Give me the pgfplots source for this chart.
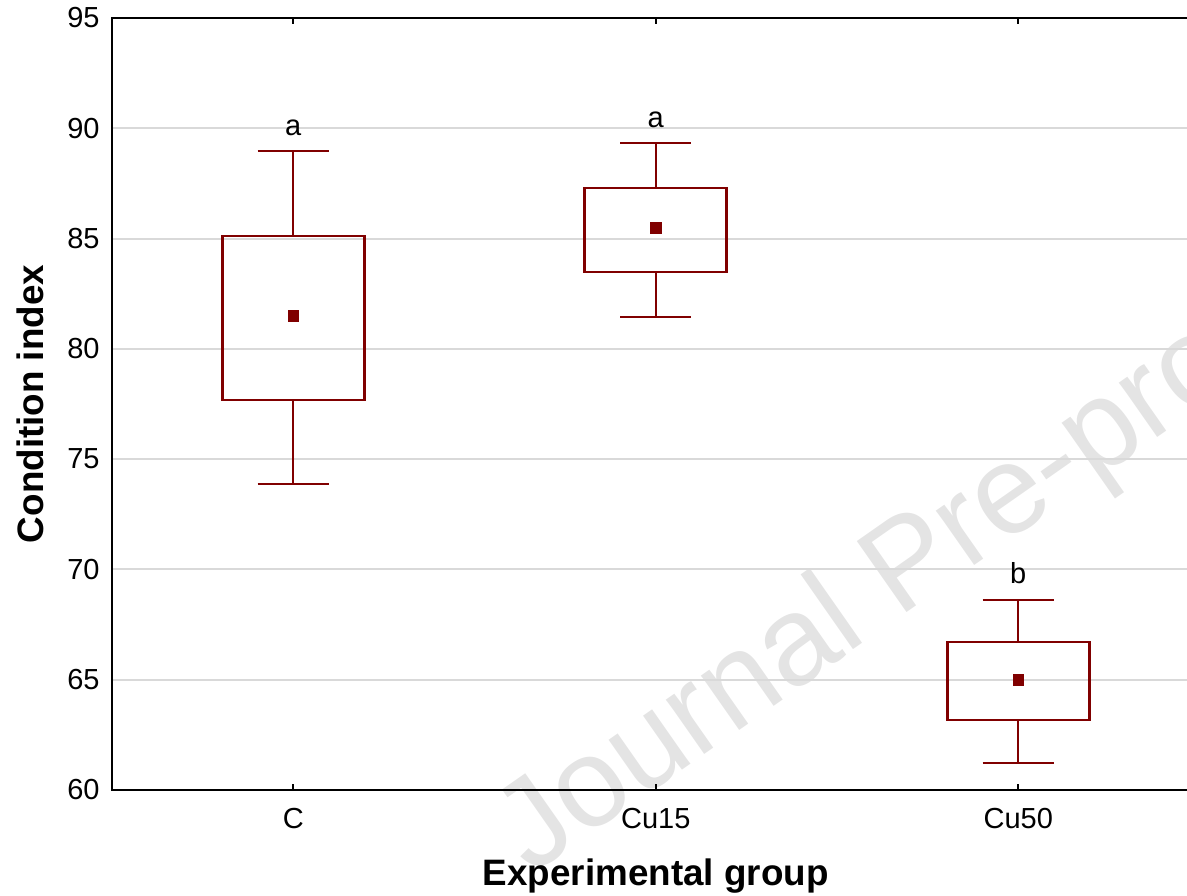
\documentclass[border=0pt]{standalone}
\usepackage{fontspec}
\setmainfont{Liberation Sans}
\usepackage{pgfplots}
\pgfplotsset{compat=1.18}
\usepgfplotslibrary{statistics}
\definecolor{boxred}{RGB}{128,0,0}
\definecolor{gridgray}{RGB}{217,217,217}
\definecolor{wmgray}{RGB}{228,228,228}

\begin{document}
\begin{tikzpicture}
% watermark of the source page
\node[anchor=base west, rotate=35, inner sep=0pt, text=wmgray,
      font=\fontsize{63}{70}\selectfont] at (209.5pt,-43pt) {Journal Pre-proof};
\begin{axis}[
    at={(0,0)}, anchor=south west,
    scale only axis, width=543.75pt, height=386pt,
    xmin=-0.5, xmax=2.5, ymin=60, ymax=95,
    xtick={0,1,2}, xticklabels={C,Cu15,Cu50},
    ytick={60,65,...,95},
    ymajorgrids, grid style={gridgray, line width=1pt},
    axis line style={line width=1pt},
    tick align=inside,
    major tick length=3pt,
    xtick style={black, line width=1pt},
    ytick style={draw=none},
    font=\fontsize{14.5}{17}\selectfont,
    /pgf/number format/assume math mode=true,
    xticklabel style={anchor=base, yshift=-19pt, inner sep=0pt},
    yticklabel style={anchor=east, xshift=-6pt, inner sep=0pt},
    xlabel={Experimental group}, ylabel={Condition index},
    xlabel style={at={(axis description cs:0.5,-0.1231)}, anchor=base,
                  font=\fontsize{18.4}{22}\selectfont\bfseries},
    ylabel style={at={(axis description cs:-0.0634,0.5)}, anchor=base,
                  font=\fontsize{18.4}{22}\selectfont\bfseries},
    boxplot/draw direction=y,
    boxplot/every box/.style={line width=1.35pt},
    boxplot/every whisker/.style={line width=0.85pt},
    boxplot/every average/.style={/tikz/mark=square*, /tikz/mark size=2.6pt,
        /tikz/mark options={fill=boxred, draw=boxred, line width=0.2pt}},
    boxplot/draw/median/.code={},
    box/.style={boxred, solid, mark=square*, mark size=2.6pt,
                mark options={fill=boxred, draw=boxred, line width=0.2pt}},
]
\addplot[box, boxplot prepared={draw position=0,
    lower whisker=73.88, lower quartile=77.68, median=81.49, average=81.49,
    upper quartile=85.12, upper whisker=88.97,
    box extend=0.392, whisker extend=0.196}] coordinates {};
\addplot[box, boxplot prepared={draw position=1,
    lower whisker=81.45, lower quartile=83.49, median=85.48, average=85.48,
    upper quartile=87.29, upper whisker=89.33,
    box extend=0.392, whisker extend=0.196}] coordinates {};
\addplot[box, boxplot prepared={draw position=2,
    lower whisker=61.23, lower quartile=63.18, median=65.0, average=65.0,
    upper quartile=66.71, upper whisker=68.62,
    box extend=0.392, whisker extend=0.196}] coordinates {};

\node[anchor=base, inner sep=0pt, yshift=8pt, font=\fontsize{14.5}{17}\selectfont]
    at (axis cs:0,88.97) {a};
\node[anchor=base, inner sep=0pt, yshift=8pt, font=\fontsize{14.5}{17}\selectfont]
    at (axis cs:1,89.33) {a};
\node[anchor=base, inner sep=0pt, yshift=8pt, font=\fontsize{14.5}{17}\selectfont]
    at (axis cs:2,68.62) {b};
\end{axis}
\pgfresetboundingbox
\useasboundingbox (-56pt,-52.5pt) rectangle (537.5pt,395pt);
\end{tikzpicture}
\end{document}
